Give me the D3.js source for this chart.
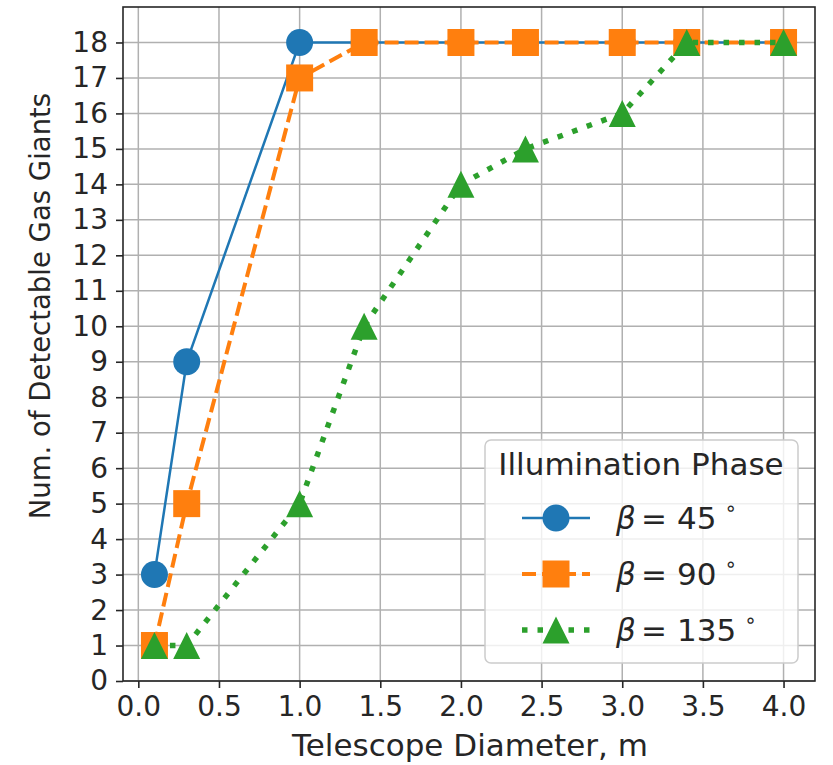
<!DOCTYPE html>
<html>
<head>
<meta charset="utf-8">
<script src="https://cdn.jsdelivr.net/npm/d3@7"></script>
<style>
  body { margin: 0; background: #fff; }
  text { font-family: "DejaVu Sans", sans-serif; fill: #262626; }
</style>
</head>
<body>
<svg id="chart"></svg>
<script>
const diameters = [0.1, 0.3, 1.0, 1.4, 2.0, 2.4, 3.0, 3.4, 4.0];
const beta45 = [3, 9, 18, 18, 18, 18, 18, 18, 18];
const beta90 = [1, 5, 17, 18, 18, 18, 18, 18, 18];
const beta135 = [1, 1, 5, 10, 14, 15, 16, 18, 18];
const xTicks = [0, 0.5, 1, 1.5, 2, 2.5, 3, 3.5, 4];
const yTicks = d3.range(0, 19);
const seriesNames = ["45", "90", "135"];

const w = 833;
const h = 765;
const plotLeft = 123, plotRight = 815, plotTop = 7, plotBottom = 681;

const svg = d3.select("#chart").attr("width", w).attr("height", h);

const x = d3.scaleLinear().domain([-0.095, 4.195]).range([plotLeft, plotRight]);
const y = d3.scaleLinear().domain([0, 19]).range([plotBottom, plotTop]);

// grid
svg.append("g")
  .selectAll("line")
  .data(xTicks)
  .enter()
  .append("line")
  .attr("x1", (d) => x(d)).attr("x2", (d) => x(d))
  .attr("y1", plotTop).attr("y2", plotBottom)
  .attr("stroke", "#b0b0b0").attr("stroke-width", 1.5);
svg.append("g")
  .selectAll("line")
  .data(yTicks)
  .enter()
  .append("line")
  .attr("x1", plotLeft).attr("x2", plotRight)
  .attr("y1", (d) => y(d)).attr("y2", (d) => y(d))
  .attr("stroke", "#b0b0b0").attr("stroke-width", 1.5);

const series = [
  { name: seriesNames[0], values: beta45, color: "#1f77b4", width: 2.5, dash: null, marker: "circle" },
  { name: seriesNames[1], values: beta90, color: "#ff7f0e", width: 4, dash: "14,6", marker: "square" },
  { name: seriesNames[2], values: beta135, color: "#2ca02c", width: 5.5, dash: "5.5,10", marker: "triangle" },
];

const markerPath = (type, s) => {
  const r = s / 2;
  if (type === "circle") {
    return `M${r},0A${r},${r},0,1,1,${-r},0A${r},${r},0,1,1,${r},0Z`;
  }
  if (type === "square") {
    return `M${-r},${-r}H${r}V${r}H${-r}Z`;
  }
  return `M0,${-r}L${r},${r}L${-r},${r}Z`;
};

const line = d3.line()
  .x((d) => x(d[0]))
  .y((d) => y(d[1]));

series.forEach((s) => {
  const pts = diameters.map((d, i) => [d, s.values[i]]);
  svg.append("path")
    .datum(pts)
    .attr("d", line)
    .attr("fill", "none")
    .attr("stroke", s.color)
    .attr("stroke-width", s.width)
    .attr("stroke-dasharray", s.dash);
  svg.append("g")
    .selectAll("path")
    .data(pts)
    .enter()
    .append("path")
    .attr("d", markerPath(s.marker, 27))
    .attr("transform", (d) => `translate(${x(d[0])},${y(d[1])})`)
    .attr("fill", s.color);
});

// frame
svg.append("rect")
  .attr("x", plotLeft).attr("y", plotTop)
  .attr("width", plotRight - plotLeft).attr("height", plotBottom - plotTop)
  .attr("fill", "none").attr("stroke", "#262626").attr("stroke-width", 1.6);

// axes
const xAxis = d3.axisBottom(x).tickValues(xTicks).tickFormat(d3.format(".1f")).tickSizeOuter(0).tickSize(7).tickPadding(8);
const gx = svg.append("g").attr("transform", `translate(0,${plotBottom})`).call(xAxis);
const yAxis = d3.axisLeft(y).tickValues(yTicks).tickFormat(d3.format("d")).tickSizeOuter(0).tickSize(7).tickPadding(8);
const gy = svg.append("g").attr("transform", `translate(${plotLeft},0)`).call(yAxis);
[gx, gy].forEach((g) => {
  g.select(".domain").remove();
  g.selectAll(".tick line").attr("stroke", "#262626").attr("stroke-width", 1.6);
  g.selectAll(".tick text").attr("font-size", 28).attr("font-family", "DejaVu Sans").attr("fill", "#262626");
});

svg.append("text")
  .attr("x", 470)
  .attr("y", 756)
  .attr("text-anchor", "middle")
  .attr("font-size", 31)
  .text("Telescope Diameter, m");

svg.append("text")
  .attr("transform", `translate(50,${(97 + 515) / 2}) rotate(-90)`)
  .attr("text-anchor", "middle")
  .attr("font-size", 27.5)
  .text("Num. of Detectable Gas Giants");

// legend
const lg = svg.append("g");
lg.append("rect")
  .attr("x", 485).attr("y", 440)
  .attr("width", 313).attr("height", 223)
  .attr("rx", 6)
  .attr("fill", "#fff").attr("fill-opacity", 0.8)
  .attr("stroke", "#cccccc").attr("stroke-width", 1.5);
lg.append("text")
  .attr("x", 641).attr("y", 475)
  .attr("text-anchor", "middle")
  .attr("font-size", 31)
  .text("Illumination Phase");

series.forEach((s, i) => {
  const cy = 518 + i * 56;
  lg.append("line")
    .attr("x1", 522).attr("x2", 590)
    .attr("y1", cy).attr("y2", cy)
    .attr("stroke", s.color)
    .attr("stroke-width", s.width)
    .attr("stroke-dasharray", s.dash);
  lg.append("path")
    .attr("d", markerPath(s.marker, 27))
    .attr("transform", `translate(556,${cy})`)
    .attr("fill", s.color);
  const t = lg.append("text")
    .attr("x", 616).attr("y", cy + 11)
    .attr("font-size", 31);
  t.append("tspan").attr("font-style", "italic").text("β");
  t.append("tspan").attr("x", 641).text("=");
  t.append("tspan").attr("x", 677).text(s.name);
  t.append("tspan").attr("dx", 8).attr("dy", -14).attr("font-size", 20).text("∘");
});
</script>
</body>
</html>
